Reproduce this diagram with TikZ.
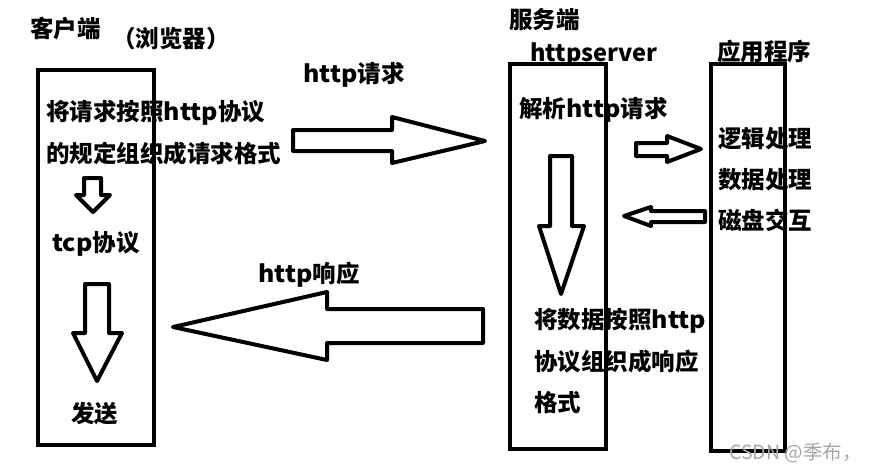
\documentclass[tikz,border=0pt]{standalone}
\usepackage{fontspec}
\setmainfont{Noto Sans CJK SC}
\newfontfamily\cjk{Noto Sans CJK SC}
\newfontfamily\latf{Noto Sans CJK SC}[FakeStretch=1.06]
\newcommand{\lt}[1]{{\latf #1}}
\begin{document}
\begin{tikzpicture}[x=1pt,y=-1pt,
  txt/.style={anchor=west, inner sep=0pt, font=\cjk\bfseries\fontsize{23.5}{23.5}\selectfont},
  wmark/.style={anchor=west, inner sep=0pt, text=black!35, font=\cjk\fontsize{19.5}{19.5}\selectfont},
  box/.style={draw, line width=4pt, inner sep=0pt},
  blockarrow/.style={draw, line width=4pt, line join=round, fill=white}]
\path[fill=white] (0,0) rectangle (869,471);
\useasboundingbox (0,0) rectangle (869,471);
% boxes
\node[box, minimum width=116pt, minimum height=375pt] (client) at (96,257.5) {};
\node[box, minimum width=96pt, minimum height=385pt] (server) at (558,256.5) {};
\node[box, minimum width=74pt, minimum height=387pt] (app) at (748,257.5) {};
% titles
\node[txt] (tclient) at (30,29) {客户端};
\node[txt] (tbrowser) at (112,39) {（浏览器）};
\node[txt] (tserver) at (509,20) {服务端};
\node[txt] (thttpserver) at (530,55) {httpserver};
\node[txt] (tapp) at (717,52) {应用程序};
% client texts
\node[txt] (c1) at (46,113) {将请求按照\lt{http}协议};
\node[txt] (c2) at (46,154) {的规定组织成请求格式};
\node[txt] (c3) at (52,244) {\lt{tcp}协议};
\node[txt] (c4) at (71,414) {发送};
% labels
\node[txt] (lreq) at (303,75) {\lt{http}请求};
\node[txt] (lresp) at (258,275) {\lt{http}响应};
% server texts
\node[txt] (s1) at (519,110) {解析\lt{http}请求};
\node[txt] (s2) at (534,321) {将数据按照\lt{http}};
\node[txt] (s3) at (534,362) {协议组织成响应};
\node[txt] (s4) at (534,403) {格式};
% app texts
\node[txt] (a1) at (718,139) {逻辑处理};
\node[txt] (a2) at (718,180) {数据处理};
\node[txt] (a3) at (718,220) {磁盘交互};
\node[wmark] (wm) at (729,453) {CSDN @季布，};
% block arrows
\draw[blockarrow] (293,130) -- (392,130) -- (392,117) -- (485,141) -- (392,163) -- (392,151) -- (293,151) -- cycle;
\draw[blockarrow] (483,309) -- (327,309) -- (327,292) -- (173,327) -- (327,360) -- (327,343) -- (483,343) -- cycle;
\draw[blockarrow] (84,178) -- (101,178) -- (101,195) -- (110,195) -- (93,212) -- (76,195) -- (84,195) -- cycle;
\draw[blockarrow] (85,284) -- (109,284) -- (109,333) -- (122,333) -- (97,381) -- (73,333) -- (85,333) -- cycle;
\draw[blockarrow] (550,156) -- (572,156) -- (572,226) -- (584,226) -- (561,294) -- (539,226) -- (550,226) -- cycle;
\draw[blockarrow] (636,143) -- (667,143) -- (667,136) -- (701,149) -- (667,162) -- (667,156) -- (636,156) -- cycle;
\draw[blockarrow] (705,211) -- (651,211) -- (651,207) -- (624,216) -- (651,226) -- (651,222) -- (705,222) -- cycle;
\end{tikzpicture}
\end{document}
